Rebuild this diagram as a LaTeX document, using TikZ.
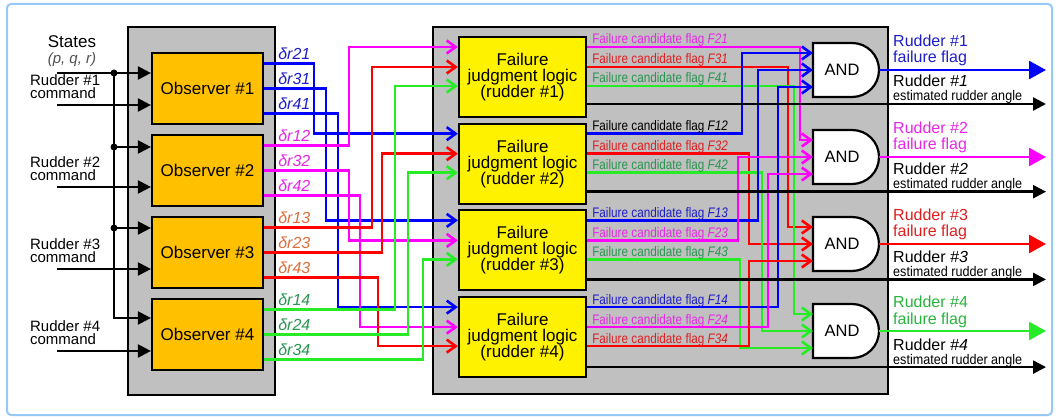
\documentclass[tikz,border=0pt]{standalone}
\usepackage{fontspec}
\setmainfont{Liberation Sans}
\newfontfamily\narrowsans[FakeStretch=0.85]{Liberation Sans}
\newfontfamily\smallsans[FakeStretch=0.9]{Liberation Sans}
\usetikzlibrary{arrows.meta,positioning,calc}

\definecolor{lblue}{RGB}{0,0,255}
\definecolor{lmag}{RGB}{255,0,255}
\definecolor{lred}{RGB}{255,0,0}
\definecolor{lgreen}{RGB}{40,235,40}
\definecolor{tblue}{RGB}{30,30,200}
\definecolor{tmag}{RGB}{230,40,230}
\definecolor{tred}{RGB}{225,30,30}
\definecolor{torange}{RGB}{220,110,60}
\definecolor{tgreen}{RGB}{40,150,80}
\definecolor{tgreenb}{RGB}{40,180,60}
\definecolor{obsorange}{RGB}{255,192,0}
\definecolor{grpgray}{RGB}{192,192,192}
\definecolor{rimblue}{RGB}{150,200,250}
\definecolor{pqrgray}{RGB}{80,80,80}

\begin{document}
\begin{tikzpicture}[
    x=1pt, y=-1pt,
    grp/.style={draw, line width=2pt, fill=grpgray, inner sep=0pt},
    obs/.style={draw, line width=2.2pt, fill=obsorange, minimum width=111pt, minimum height=71pt, font=\fontsize{17}{18}\selectfont},
    fjbox/.style={draw, line width=2.2pt, fill=yellow, minimum width=127pt, minimum height=80pt, align=center, inner sep=0pt, font=\fontsize{17}{16}\selectfont},
    gatebox/.style={minimum width=66pt, minimum height=54pt, inner sep=0pt, outer sep=0pt},
    gate/.style={draw, fill=white, line width=2.2pt},
    wire/.style={line width=2.6pt, draw=#1, -{Straight Barb[length=9pt,width=13pt]}},
    inarrow/.style={line width=2.2pt, -{Triangle[length=13pt,width=13pt]}},
    angout/.style={line width=2.4pt, -{Triangle[length=13pt,width=13pt]}},
    flagout/.style={line width=2.6pt, draw=#1, -{Triangle[length=17pt,width=18pt]}},
    cmdlbl/.style={anchor=west, align=left, inner sep=0pt, font=\fontsize{15}{13}\selectfont},
    rlbl/.style={anchor=base west, inner sep=0pt, font=\fontsize{16}{16}\selectfont\itshape},
    flaglbl/.style={anchor=base west, inner sep=0pt, font=\narrowsans\fontsize{13.8}{14}\selectfont},
    flbl/.style={anchor=base west, inner sep=0pt, font=\fontsize{16}{16}\selectfont},
    esmall/.style={anchor=base west, inner sep=0pt, font=\smallsans\fontsize{14}{14}\selectfont},
    andlbl/.style={inner sep=0pt, font=\fontsize{16.5}{16}\selectfont}
]
\useasboundingbox (0,0) rectangle (1059,419);
\draw[rimblue, line width=2pt, rounded corners=4pt] (7,4) rectangle (1052,415);

% group frames
\node[grp, minimum width=147pt, minimum height=368pt] (obsgrp) at (201.5,211) {};
\node[grp, minimum width=455pt, minimum height=367pt] (fjgrp) at (660.5,210.5) {};

% observers
\node[obs] (obs1) at (207.5,88.5) {Observer \#1};
\node[obs, below=8.8pt of obs1] (obs2) {Observer \#2};
\node[obs, below=8.8pt of obs2] (obs3) {Observer \#3};
\node[obs, below=8.8pt of obs3] (obs4) {Observer \#4};

% failure judgment blocks
\node[fjbox] (fj1) at (522.5,77) {Failure\\judgment logic\\(rudder \#1)};
\node[fjbox, below=4.5pt of fj1] (fj2) {Failure\\judgment logic\\(rudder \#2)};
\node[fjbox, below=4.5pt of fj2] (fj3) {Failure\\judgment logic\\(rudder \#3)};
\node[fjbox, below=4.5pt of fj3] (fj4) {Failure\\judgment logic\\(rudder \#4)};

% AND gates
\node[gatebox] (and1) at (846,70) {};
\node[gatebox, below=33pt of and1] (and2) {};
\node[gatebox, below=33pt of and2] (and3) {};
\node[gatebox, below=33pt of and3] (and4) {};
\foreach \i in {1,...,4}{
  \draw[gate] (and\i.north west) -- ++(39,0) .. controls +(15,0) and +(0,-15) .. (and\i.east)
     .. controls +(0,15) and +(15,0) .. ($(and\i.south west)+(39,0)$) -- (and\i.south west) -- cycle;
  \node[andlbl] (andl\i) at ([xshift=-4pt]and\i.center) {AND};
}

\coordinate (stin) at (57,73);
\coordinate (bus) at (114,73);
\coordinate (rim) at (1046,0);
\coordinate (lx) at (893,0);

% states bus and rudder commands
\node[font=\fontsize{17}{17}\selectfont, inner sep=0pt] (states) at (72,42) {States};
\node[font=\fontsize{15}{15}\selectfont\itshape, text=pqrgray, inner sep=0pt] (pqr) at (72,60) {(p, q, r)};
\foreach \i/\off in {1/-15.5,2/-23.5,3/-24.5,4/-16.5}
  \coordinate (s\i) at ($(obs\i.west)+(0,\off)$);
\draw[inarrow] (stin) -- (s1);
\draw[inarrow] (bus) |- (s4);
\draw[inarrow] (bus |- s2) -- (s2);
\draw[inarrow] (bus |- s3) -- (s3);
\fill (bus) circle (3.5pt) (bus |- s2) circle (3.5pt) (bus |- s3) circle (3.5pt);
\foreach \i in {1,...,4}{
  \coordinate (c\i) at ($(obs\i.west)+(0,16.5)$);
  \draw[inarrow] (c\i -| stin) -- (c\i);
  \node[cmdlbl] (cmd\i) at ($(obs\i.west)+(-121,-1.5)$) {Rudder \#\i\\command};
}

% residuals to the judgment blocks
\foreach \src/\off/\run/\dst/\pin/\nm/\col/\tcol in {
    1/-25/50/2/-30/21/lblue/tblue, 1/0/62/3/-30/31/lblue/tblue, 1/25/74/4/-30/41/lblue/tblue,
    2/-25/85/1/-30/12/lmag/tmag, 2/0/85/3/-10/32/lmag/tmag, 2/25/96/4/-10/42/lmag/tmag,
    3/-25/108/1/-10/13/lred/torange, 3/0/118/2/-10/23/lred/torange, 3/25/114/4/9/43/lred/torange,
    4/-25/131/1/9/14/lgreen/tgreen, 4/0/144/2/9/24/lgreen/tgreen, 4/25/159/3/9/34/lgreen/tgreen}{
  \coordinate (r\nm) at ($(obs\src.east)+(0,\off)$);
  \draw[wire=\col] (r\nm) -- ++(\run,0) |- ($(fj\dst.west)+(0,\pin)$);
  \node[rlbl, text=\tcol] (lr\nm) at ($(r\nm)+(14,-4)$) {δr\nm};
}

% candidate flags to the AND gates
\foreach \blk/\off/\run/\gt/\pin/\nm/\col/\tcol in {
    1/-30/213/2/-17/21/lmag/tmag, 1/-10/201/3/-17/31/lred/tred, 1/9/207/4/-17/41/lgreen/tgreen,
    2/-30/155/1/-17/12/lblue/black, 2/-10/162/3/0/32/lred/tred, 2/9/175/4/0/42/lgreen/tgreen,
    3/-30/171/1/0/13/lblue/tblue, 3/-10/151/2/0/23/lmag/tmag, 3/9/153/4/17/43/lgreen/tgreen,
    4/-30/191/1/17/14/lblue/tblue, 4/-10/181/2/17/24/lmag/tmag, 4/9/162/3/17/34/lred/tred}{
  \coordinate (f\nm) at ($(fj\blk.east)+(0,\off)$);
  \draw[wire=\col] (f\nm) -- ++(\run,0) |- ($(and\gt.west)+(0,\pin)$);
  \node[flaglbl, text=\tcol] (lf\nm) at ($(f\nm)+(5,-3)$) {Failure candidate flag \textit{F\nm}};
}

% estimated rudder angles
\foreach \i/\off in {1/27,2/28,3/29,4/30}{
  \coordinate (e\i) at ($(fj\i.east)+(0,\off)$);
  \draw[angout] (e\i) -- (e\i -| rim);
  \node[flbl] (er\i) at ($(e\i -| lx)+(0,-17)$) {Rudder \textit{\#\i}};
  \node[esmall] (ea\i) at ($(e\i -| lx)+(0,-3)$) {estimated rudder angle};
}

% failure flags
\foreach \i/\col/\tcol in {1/lblue/tblue, 2/lmag/tmag, 3/lred/tred, 4/lgreen/tgreenb}{
  \draw[flagout=\col] (and\i.east) -- (and\i.east -| rim);
  \node[flbl, text=\tcol] (fr\i) at ($(and\i.east -| lx)+(0,-23)$) {Rudder \#\i};
  \node[flbl, text=\tcol] (ff\i) at ($(and\i.east -| lx)+(0,-7)$) {failure flag};
}

\end{tikzpicture}
\end{document}
